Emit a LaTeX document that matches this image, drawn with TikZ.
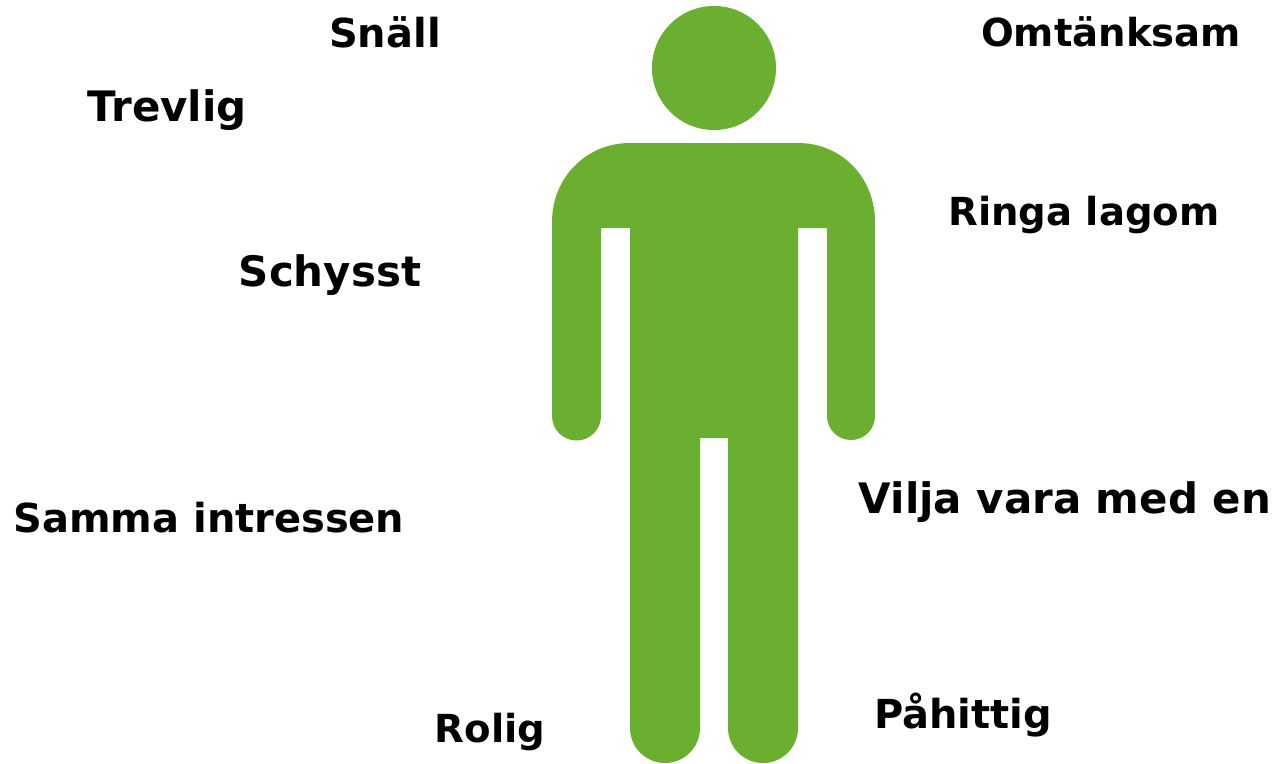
\documentclass[tikz,border=0pt]{standalone}
\usepackage{fontspec}
\setmainfont{DejaVu Sans}
\usepackage{xcolor}
\definecolor{figgreen}{HTML}{6AAF2F}
\usepackage{tikz}
\begin{document}
\begin{tikzpicture}[
  x=0.0264cm, y=-0.0264cm,
  every node/.style={text=black, inner sep=0pt},
  word/.style={font=\fontsize{30}{36}\selectfont\bfseries},
  wideword/.style={font=\fontsize{31.5}{36}\selectfont\bfseries},
  narrowword/.style={font=\fontsize{29}{36}\selectfont\bfseries},
  body/.style={fill=figgreen, draw=none}
]
\useasboundingbox (0,0) rectangle (1276,763);

% ---- figure ----
\node (head) [circle, body, minimum size=124*0.0264cm] at (714,68) {};
\fill[figgreen] (630,143) -- (798,143)
  .. controls (842,143) and (875,178) .. (875,222)
  -- (875,416) arc[start angle=0, end angle=180, radius=24]
  -- (827,228) -- (798,228) -- (798,728)
  arc[start angle=0, end angle=180, radius=35]
  -- (728,438) -- (700,438) -- (700,728)
  arc[start angle=0, end angle=180, radius=35]
  -- (630,228) -- (601,228) -- (601,416)
  arc[start angle=0, end angle=180, radius=24.5]
  -- (552,222) .. controls (552,178) and (586,143) .. (630,143) -- cycle;

% ---- words left ----
\node (snall) [word] at (385,32) {Snäll};
\node (trevlig) [wideword] at (167,110) {Trevlig};
\node (schysst) [wideword] at (330,275) {Schysst};
\node (samma) [word] at (209,518) {Samma intressen};
\node (rolig) [narrowword] at (490,732) {Rolig};

% ---- words right ----
\node (omtanksam) [narrowword] at (1111,32) {Omtänksam};
\node (ringa) [narrowword] at (1084,215) {Ringa lagom};
\node (vilja) [wideword] at (1065,502) {Vilja vara med en};
\node (pahittig) [word] at (963,715) {Påhittig};

\end{tikzpicture}
\end{document}
